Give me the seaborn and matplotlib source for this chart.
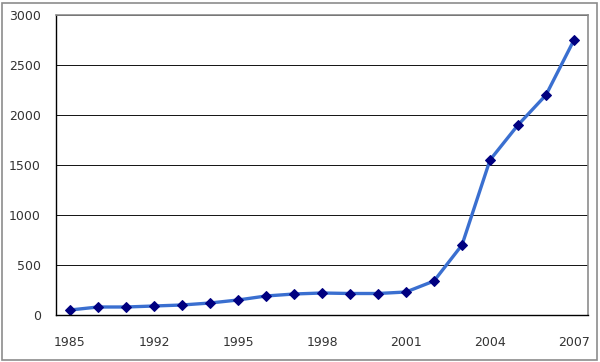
import numpy as np
import pandas as pd
import matplotlib
matplotlib.use('Agg')
import matplotlib.pyplot as plt
import seaborn as sns
from matplotlib.ticker import MultipleLocator, FixedLocator
from matplotlib.patches import Rectangle

years = ['1985', '1988', '1990', '1992', '1993', '1994', '1995', '1996', '1997', '1998',
         '1999', '2000', '2001', '2002', '2003', '2004', '2005', '2006', '2007']
values = [50, 80, 80, 90, 100, 120, 150, 190, 210, 220,
          215, 215, 230, 340, 700, 1550, 1900, 2200, 2750]
shown_labels = ['1985', '1992', '1995', '1998', '2001', '2004', '2007']

df = pd.DataFrame({'year': years, 'value': values})

sns.set_style('white')
plt.rcParams['font.family'] = ['DejaVu Sans']

fig = plt.figure(figsize=(6, 3.62), dpi=100)
ax = fig.add_axes([56/600, 1-315/362, 532/600, 300/362])

sns.lineplot(data=df, x='year', y='value', ax=ax, color='#3a6fd0', linewidth=2.4,
             marker='D', markersize=5.5, markerfacecolor='#000080', markeredgecolor='#000080',
             sort=False)

ax.set_xlim(-0.5, len(years) - 0.5)
ax.set_ylim(0, 3000)
ax.yaxis.set_major_locator(MultipleLocator(500))
ax.yaxis.grid(True, color='#111111', linewidth=0.7)
ax.set_axisbelow(True)

pos = [years.index(y) for y in shown_labels]
ax.xaxis.set_major_locator(FixedLocator(pos))
ax.set_xticklabels(shown_labels)
ax.xaxis.set_minor_locator(FixedLocator(np.arange(-0.5, len(years), 1.0)))
ax.tick_params(axis='x', which='major', length=0, pad=15, labelsize=9, colors='#333333')
ax.tick_params(axis='x', which='minor', length=4, width=0.8, direction='out', color='black')
ax.tick_params(axis='y', which='major', length=0, pad=11, labelsize=9, colors='#333333')
ax.set_xlabel('')
ax.set_ylabel('')

for s in ['left', 'bottom']:
    ax.spines[s].set_color('black')
    ax.spines[s].set_linewidth(1.0)
for s in ['top', 'right']:
    ax.spines[s].set_color('#8c8c8c')
    ax.spines[s].set_linewidth(1.2)

fig.patches.append(Rectangle((2/600, 2/362), 595/600, 357/362, transform=fig.transFigure,
                             fill=False, edgecolor='#8c8c8c', linewidth=1.2))

fig.savefig('out.png', dpi=100)
